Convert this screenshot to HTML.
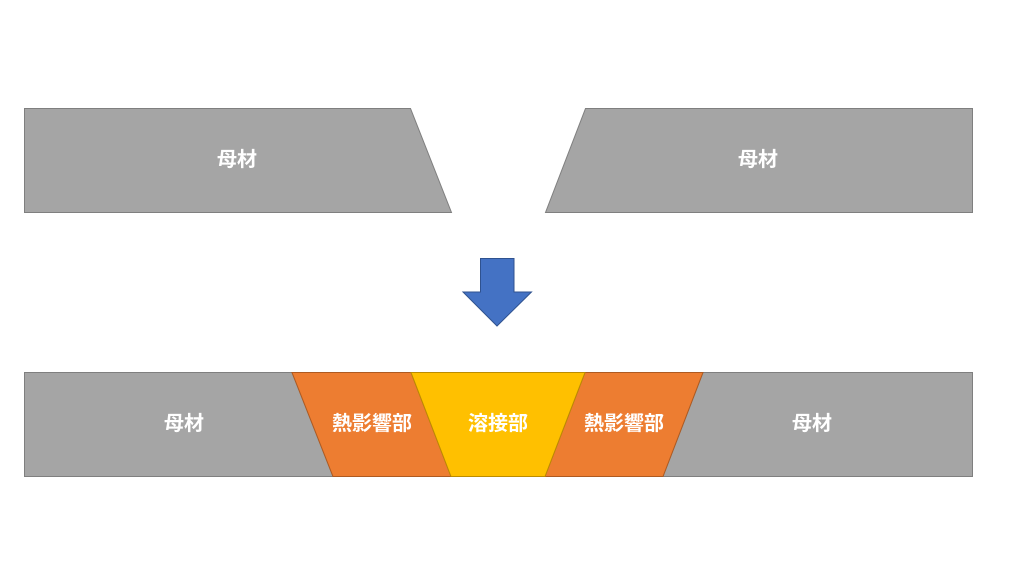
<!DOCTYPE html>
<html><head><meta charset="utf-8"><style>html,body{margin:0;padding:0;background:#fff;}svg{display:block}</style></head>
<body>
<svg width="1024" height="580" viewBox="0 0 1024 580" xmlns="http://www.w3.org/2000/svg" font-family="'Liberation Sans','Noto Sans CJK JP',sans-serif" font-weight="bold" font-size="20" fill="#fff">
<g stroke="#7f7f7f" stroke-width="1">
<polygon points="24.5,108.5 410.5,108.5 451.5,212.5 24.5,212.5" fill="#a5a5a5"/>
<polygon points="585.5,108.5 972.5,108.5 972.5,212.5 545.5,212.5" fill="#a5a5a5"/>
<polygon points="24.5,372.5 292,372.5 333,476.5 24.5,476.5" fill="#a5a5a5"/>
<polygon points="703,372.5 972.5,372.5 972.5,476.5 663,476.5" fill="#a5a5a5"/>
</g>
<g stroke="#ae5a21" stroke-width="1">
<polygon points="292,372.5 411,372.5 451,476.5 333,476.5" fill="#ed7d31"/>
<polygon points="585,372.5 703,372.5 663,476.5 545,476.5" fill="#ed7d31"/>
</g>
<polygon points="411,372.5 585,372.5 545,476.5 451,476.5" fill="#ffc000" stroke="#bc8c00" stroke-width="1"/>
<polygon points="480.5,258.5 514,258.5 514,292 531.5,292 497,326 463,292 480.5,292" fill="#4472c4" stroke="#2f528f" stroke-width="1"/>
<g text-anchor="middle" dominant-baseline="central">
<text x="237" y="160">母材</text>
<text x="758" y="160">母材</text>
<text x="184" y="424">母材</text>
<text x="372" y="424">熱影響部</text>
<text x="498" y="424">溶接部</text>
<text x="624" y="424">熱影響部</text>
<text x="812" y="424">母材</text>
</g>
</svg>
</body></html>
